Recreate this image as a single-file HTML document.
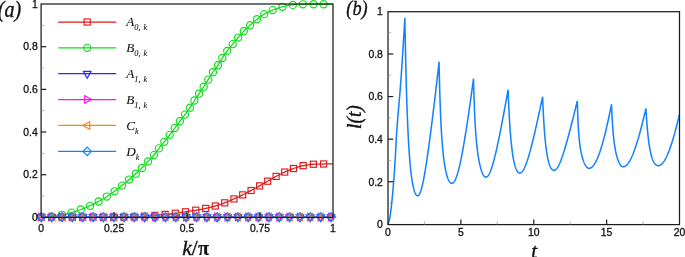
<!DOCTYPE html>
<html lang="en"><head><meta charset="utf-8"><title>Figure</title>
<style>
html,body{margin:0;padding:0;background:#fff}
body{width:685px;height:257px;overflow:hidden}
svg{display:block;will-change:transform}
.tk text{font-family:"Liberation Sans",sans-serif;font-size:10.4px;fill:#111;stroke:#111;stroke-width:0.3px}
.lg{font-family:"Liberation Serif",serif;font-style:italic;font-size:13.2px;fill:#111;stroke:#111;stroke-width:0.08px}
.sub{font-size:8.3px;word-spacing:0.8px}
.ttl{font-family:"Liberation Serif",serif;fill:#111;stroke:#111;stroke-width:0.35px}
.it{font-style:italic}
</style></head><body>
<svg width="685" height="257" viewBox="0 0 685 257">
<rect width="685" height="257" fill="#fff"/>
<path d="M41.3 217.3 L42.77 217.3 L44.23 217.3 L45.7 217.3 L47.16 217.3 L48.63 217.3 L50.09 217.3 L51.56 217.3 L53.03 217.3 L54.49 217.3 L55.96 217.3 L57.42 217.3 L58.89 217.3 L60.36 217.3 L61.82 217.3 L63.29 217.3 L64.75 217.3 L66.22 217.3 L67.68 217.3 L69.15 217.3 L70.62 217.3 L72.08 217.3 L73.55 217.3 L75.01 217.3 L76.48 217.3 L77.95 217.3 L79.41 217.3 L80.88 217.3 L82.34 217.3 L83.81 217.3 L85.27 217.3 L86.74 217.3 L88.21 217.3 L89.67 217.3 L91.14 217.3 L92.6 217.3 L94.07 217.3 L95.54 217.3 L97 217.3 L98.47 217.3 L99.93 217.3 L101.4 217.3 L102.86 217.3 L104.33 217.3 L105.8 217.3 L107.26 217.3 L108.73 217.3 L110.19 217.3 L111.66 217.3 L113.13 217.3 L114.59 217.29 L116.06 217.27 L117.52 217.22 L118.99 217.17 L120.45 217.11 L121.92 217.06 L123.39 217.01 L124.85 216.98 L126.32 216.95 L127.78 216.93 L129.25 216.9 L130.72 216.88 L132.18 216.85 L133.65 216.81 L135.11 216.77 L136.58 216.72 L138.04 216.66 L139.51 216.59 L140.98 216.51 L142.44 216.42 L143.91 216.34 L145.37 216.24 L146.84 216.13 L148.31 216.01 L149.77 215.88 L151.24 215.74 L152.7 215.6 L154.17 215.46 L155.63 215.33 L157.1 215.19 L158.57 215.05 L160.03 214.91 L161.5 214.76 L162.96 214.62 L164.43 214.47 L165.9 214.32 L167.36 214.17 L168.83 214.02 L170.29 213.87 L171.76 213.72 L173.22 213.55 L174.69 213.38 L176.16 213.2 L177.62 213 L179.09 212.79 L180.55 212.57 L182.02 212.34 L183.49 212.11 L184.95 211.88 L186.42 211.66 L187.88 211.44 L189.35 211.22 L190.81 210.99 L192.28 210.76 L193.75 210.53 L195.21 210.29 L196.68 210.04 L198.14 209.8 L199.61 209.55 L201.08 209.29 L202.54 209.02 L204.01 208.74 L205.47 208.45 L206.94 208.13 L208.4 207.8 L209.87 207.45 L211.34 207.08 L212.8 206.69 L214.27 206.29 L215.73 205.87 L217.2 205.43 L218.67 204.97 L220.13 204.49 L221.6 203.98 L223.06 203.46 L224.53 202.91 L225.99 202.35 L227.46 201.75 L228.93 201.12 L230.39 200.48 L231.86 199.83 L233.32 199.18 L234.79 198.53 L236.26 197.88 L237.72 197.22 L239.19 196.56 L240.65 195.88 L242.12 195.18 L243.58 194.46 L245.05 193.72 L246.52 192.95 L247.98 192.17 L249.45 191.38 L250.91 190.6 L252.38 189.82 L253.85 189.04 L255.31 188.25 L256.78 187.46 L258.24 186.65 L259.71 185.84 L261.17 185.01 L262.64 184.16 L264.11 183.3 L265.57 182.44 L267.04 181.58 L268.5 180.74 L269.97 179.88 L271.44 179.03 L272.9 178.18 L274.37 177.35 L275.83 176.54 L277.3 175.76 L278.76 174.98 L280.23 174.22 L281.7 173.48 L283.16 172.76 L284.63 172.08 L286.09 171.43 L287.56 170.8 L289.03 170.19 L290.49 169.6 L291.96 169.05 L293.42 168.53 L294.89 168.02 L296.35 167.53 L297.82 167.05 L299.29 166.6 L300.75 166.19 L302.22 165.84 L303.68 165.55 L305.15 165.28 L306.62 165.03 L308.08 164.79 L309.55 164.59 L311.01 164.42 L312.48 164.3 L313.94 164.23 L315.41 164.17 L316.88 164.13 L318.34 164.09 L319.81 164.05 L321.27 164.03 L322.74 164.01 L324.21 163.99 L325.67 163.98 L327.14 163.97 L328.6 163.96 L330.07 163.96 L331.53 163.95 L333 163.95" fill="none" stroke="#dc1a1a" stroke-width="1.25"/>
<rect x="38.25" y="214.25" width="6.1" height="6.1" fill="none" stroke="#dc1a1a" stroke-width="1.15"/>
<rect x="48.58" y="214.25" width="6.1" height="6.1" fill="none" stroke="#dc1a1a" stroke-width="1.15"/>
<rect x="58.91" y="214.25" width="6.1" height="6.1" fill="none" stroke="#dc1a1a" stroke-width="1.15"/>
<rect x="69.24" y="214.25" width="6.1" height="6.1" fill="none" stroke="#dc1a1a" stroke-width="1.15"/>
<rect x="79.57" y="214.25" width="6.1" height="6.1" fill="none" stroke="#dc1a1a" stroke-width="1.15"/>
<rect x="89.9" y="214.25" width="6.1" height="6.1" fill="none" stroke="#dc1a1a" stroke-width="1.15"/>
<rect x="100.23" y="214.25" width="6.1" height="6.1" fill="none" stroke="#dc1a1a" stroke-width="1.15"/>
<rect x="110.56" y="214.25" width="6.1" height="6.1" fill="none" stroke="#dc1a1a" stroke-width="1.15"/>
<rect x="120.85" y="213.95" width="6.1" height="6.1" fill="none" stroke="#dc1a1a" stroke-width="1.15"/>
<rect x="131.15" y="213.75" width="6.1" height="6.1" fill="none" stroke="#dc1a1a" stroke-width="1.15"/>
<rect x="141.45" y="213.25" width="6.1" height="6.1" fill="none" stroke="#dc1a1a" stroke-width="1.15"/>
<rect x="151.8" y="212.35" width="6.1" height="6.1" fill="none" stroke="#dc1a1a" stroke-width="1.15"/>
<rect x="162.05" y="211.35" width="6.1" height="6.1" fill="none" stroke="#dc1a1a" stroke-width="1.15"/>
<rect x="172.3" y="210.25" width="6.1" height="6.1" fill="none" stroke="#dc1a1a" stroke-width="1.15"/>
<rect x="182.45" y="208.75" width="6.1" height="6.1" fill="none" stroke="#dc1a1a" stroke-width="1.15"/>
<rect x="192.7" y="207.15" width="6.1" height="6.1" fill="none" stroke="#dc1a1a" stroke-width="1.15"/>
<rect x="202.65" y="205.35" width="6.1" height="6.1" fill="none" stroke="#dc1a1a" stroke-width="1.15"/>
<rect x="212.25" y="202.95" width="6.1" height="6.1" fill="none" stroke="#dc1a1a" stroke-width="1.15"/>
<rect x="221.65" y="199.8" width="6.1" height="6.1" fill="none" stroke="#dc1a1a" stroke-width="1.15"/>
<rect x="230.9" y="195.85" width="6.1" height="6.1" fill="none" stroke="#dc1a1a" stroke-width="1.15"/>
<rect x="239.65" y="191.85" width="6.1" height="6.1" fill="none" stroke="#dc1a1a" stroke-width="1.15"/>
<rect x="248.05" y="187.45" width="6.1" height="6.1" fill="none" stroke="#dc1a1a" stroke-width="1.15"/>
<rect x="256.55" y="182.85" width="6.1" height="6.1" fill="none" stroke="#dc1a1a" stroke-width="1.15"/>
<rect x="264.65" y="178.15" width="6.1" height="6.1" fill="none" stroke="#dc1a1a" stroke-width="1.15"/>
<rect x="273.05" y="173.35" width="6.1" height="6.1" fill="none" stroke="#dc1a1a" stroke-width="1.15"/>
<rect x="281.65" y="169" width="6.1" height="6.1" fill="none" stroke="#dc1a1a" stroke-width="1.15"/>
<rect x="290.45" y="165.45" width="6.1" height="6.1" fill="none" stroke="#dc1a1a" stroke-width="1.15"/>
<rect x="300.1" y="162.6" width="6.1" height="6.1" fill="none" stroke="#dc1a1a" stroke-width="1.15"/>
<rect x="310.35" y="161.2" width="6.1" height="6.1" fill="none" stroke="#dc1a1a" stroke-width="1.15"/>
<rect x="320.55" y="160.95" width="6.1" height="6.1" fill="none" stroke="#dc1a1a" stroke-width="1.15"/>
<path d="M41.3 217.3 L42.77 217.26 L44.23 217.19 L45.7 217.1 L47.16 217 L48.63 216.87 L50.09 216.74 L51.56 216.59 L53.03 216.42 L54.49 216.21 L55.96 215.96 L57.42 215.69 L58.89 215.4 L60.36 215.1 L61.82 214.81 L63.29 214.51 L64.75 214.21 L66.22 213.89 L67.68 213.56 L69.15 213.21 L70.62 212.84 L72.08 212.44 L73.55 212 L75.01 211.54 L76.48 211.04 L77.95 210.53 L79.41 210 L80.88 209.47 L82.34 208.93 L83.81 208.39 L85.27 207.82 L86.74 207.23 L88.21 206.63 L89.67 206 L91.14 205.33 L92.6 204.63 L94.07 203.91 L95.54 203.15 L97 202.37 L98.47 201.57 L99.93 200.75 L101.4 199.9 L102.86 199.01 L104.33 198.11 L105.8 197.19 L107.26 196.25 L108.73 195.31 L110.19 194.34 L111.66 193.36 L113.13 192.34 L114.59 191.31 L116.06 190.23 L117.52 189.13 L118.99 188 L120.45 186.84 L121.92 185.66 L123.39 184.46 L124.85 183.22 L126.32 181.96 L127.78 180.69 L129.25 179.42 L130.72 178.16 L132.18 176.89 L133.65 175.61 L135.11 174.31 L136.58 173 L138.04 171.7 L139.51 170.37 L140.98 169 L142.44 167.55 L143.91 166.01 L145.37 164.4 L146.84 162.77 L148.31 161.17 L149.77 159.62 L151.24 158.08 L152.7 156.49 L154.17 154.77 L155.63 152.85 L157.1 150.82 L158.57 148.83 L160.03 146.98 L161.5 145.21 L162.96 143.44 L164.43 141.64 L165.9 139.78 L167.36 137.9 L168.83 136 L170.29 134.06 L171.76 132.08 L173.22 130.08 L174.69 128.1 L176.16 126.15 L177.62 124.23 L179.09 122.31 L180.55 120.4 L182.02 118.5 L183.49 116.6 L184.95 114.67 L186.42 112.71 L187.88 110.73 L189.35 108.66 L190.81 106.43 L192.28 103.99 L193.75 101.54 L195.21 99.27 L196.68 97.13 L198.14 95.03 L199.61 92.87 L201.08 90.67 L202.54 88.46 L204.01 86.23 L205.47 83.99 L206.94 81.73 L208.4 79.43 L209.87 77.05 L211.34 74.64 L212.8 72.35 L214.27 70.29 L215.73 68.38 L217.2 66.41 L218.67 64.2 L220.13 61.68 L221.6 59.14 L223.06 56.82 L224.53 54.63 L225.99 52.54 L227.46 50.55 L228.93 48.68 L230.39 46.89 L231.86 45.12 L233.32 43.33 L234.79 41.53 L236.26 39.73 L237.72 37.99 L239.19 36.31 L240.65 34.66 L242.12 33.06 L243.58 31.52 L245.05 30.05 L246.52 28.63 L247.98 27.25 L249.45 25.9 L250.91 24.55 L252.38 23.2 L253.85 21.88 L255.31 20.6 L256.78 19.4 L258.24 18.26 L259.71 17.16 L261.17 16.11 L262.64 15.13 L264.11 14.23 L265.57 13.42 L267.04 12.65 L268.5 11.93 L269.97 11.25 L271.44 10.62 L272.9 10.02 L274.37 9.45 L275.83 8.89 L277.3 8.36 L278.76 7.86 L280.23 7.41 L281.7 7 L283.16 6.64 L284.63 6.3 L286.09 5.98 L287.56 5.68 L289.03 5.41 L290.49 5.17 L291.96 4.98 L293.42 4.84 L294.89 4.72 L296.35 4.61 L297.82 4.51 L299.29 4.43 L300.75 4.36 L302.22 4.31 L303.68 4.29 L305.15 4.27 L306.62 4.25 L308.08 4.23 L309.55 4.22 L311.01 4.21 L312.48 4.2 L313.94 4.2 L315.41 4.2 L316.88 4.2 L318.34 4.2 L319.81 4.2 L321.27 4.2 L322.74 4.2 L324.21 4.2 L325.67 4.2 L327.14 4.2 L328.6 4.2 L330.07 4.2 L331.53 4.2 L333 4.2" fill="none" stroke="#10dc1c" stroke-width="1.25"/>
<circle cx="41.3" cy="217.3" r="3.6" fill="none" stroke="#10dc1c" stroke-width="1.15"/>
<circle cx="51.5" cy="216.6" r="3.6" fill="none" stroke="#10dc1c" stroke-width="1.15"/>
<circle cx="61.85" cy="214.8" r="3.6" fill="none" stroke="#10dc1c" stroke-width="1.15"/>
<circle cx="71.5" cy="212.6" r="3.6" fill="none" stroke="#10dc1c" stroke-width="1.15"/>
<circle cx="80.8" cy="209.5" r="3.6" fill="none" stroke="#10dc1c" stroke-width="1.15"/>
<circle cx="90" cy="205.85" r="3.6" fill="none" stroke="#10dc1c" stroke-width="1.15"/>
<circle cx="98.6" cy="201.5" r="3.6" fill="none" stroke="#10dc1c" stroke-width="1.15"/>
<circle cx="106.8" cy="196.55" r="3.6" fill="none" stroke="#10dc1c" stroke-width="1.15"/>
<circle cx="114.6" cy="191.3" r="3.6" fill="none" stroke="#10dc1c" stroke-width="1.15"/>
<circle cx="122" cy="185.6" r="3.6" fill="none" stroke="#10dc1c" stroke-width="1.15"/>
<circle cx="129.1" cy="179.55" r="3.6" fill="none" stroke="#10dc1c" stroke-width="1.15"/>
<circle cx="135.8" cy="173.7" r="3.6" fill="none" stroke="#10dc1c" stroke-width="1.15"/>
<circle cx="142" cy="168" r="3.6" fill="none" stroke="#10dc1c" stroke-width="1.15"/>
<circle cx="148" cy="161.5" r="3.6" fill="none" stroke="#10dc1c" stroke-width="1.15"/>
<circle cx="153.9" cy="155.1" r="3.6" fill="none" stroke="#10dc1c" stroke-width="1.15"/>
<circle cx="158.9" cy="148.4" r="3.6" fill="none" stroke="#10dc1c" stroke-width="1.15"/>
<circle cx="164.3" cy="141.8" r="3.6" fill="none" stroke="#10dc1c" stroke-width="1.15"/>
<circle cx="169.7" cy="134.85" r="3.6" fill="none" stroke="#10dc1c" stroke-width="1.15"/>
<circle cx="174.8" cy="127.95" r="3.6" fill="none" stroke="#10dc1c" stroke-width="1.15"/>
<circle cx="179.9" cy="121.25" r="3.6" fill="none" stroke="#10dc1c" stroke-width="1.15"/>
<circle cx="185" cy="114.6" r="3.6" fill="none" stroke="#10dc1c" stroke-width="1.15"/>
<circle cx="190" cy="107.7" r="3.6" fill="none" stroke="#10dc1c" stroke-width="1.15"/>
<circle cx="194.4" cy="100.5" r="3.6" fill="none" stroke="#10dc1c" stroke-width="1.15"/>
<circle cx="199.05" cy="93.7" r="3.6" fill="none" stroke="#10dc1c" stroke-width="1.15"/>
<circle cx="203.7" cy="86.7" r="3.6" fill="none" stroke="#10dc1c" stroke-width="1.15"/>
<circle cx="208.3" cy="79.6" r="3.6" fill="none" stroke="#10dc1c" stroke-width="1.15"/>
<circle cx="212.9" cy="72.2" r="3.6" fill="none" stroke="#10dc1c" stroke-width="1.15"/>
<circle cx="218" cy="65.25" r="3.6" fill="none" stroke="#10dc1c" stroke-width="1.15"/>
<circle cx="222.3" cy="58" r="3.6" fill="none" stroke="#10dc1c" stroke-width="1.15"/>
<circle cx="227.2" cy="50.9" r="3.6" fill="none" stroke="#10dc1c" stroke-width="1.15"/>
<circle cx="232.7" cy="44.1" r="3.6" fill="none" stroke="#10dc1c" stroke-width="1.15"/>
<circle cx="238.1" cy="37.55" r="3.6" fill="none" stroke="#10dc1c" stroke-width="1.15"/>
<circle cx="243.8" cy="31.3" r="3.6" fill="none" stroke="#10dc1c" stroke-width="1.15"/>
<circle cx="250.1" cy="25.3" r="3.6" fill="none" stroke="#10dc1c" stroke-width="1.15"/>
<circle cx="256.9" cy="19.3" r="3.6" fill="none" stroke="#10dc1c" stroke-width="1.15"/>
<circle cx="264.25" cy="14.15" r="3.6" fill="none" stroke="#10dc1c" stroke-width="1.15"/>
<circle cx="272.7" cy="10.1" r="3.6" fill="none" stroke="#10dc1c" stroke-width="1.15"/>
<circle cx="282.5" cy="6.8" r="3.6" fill="none" stroke="#10dc1c" stroke-width="1.15"/>
<circle cx="292.8" cy="4.9" r="3.6" fill="none" stroke="#10dc1c" stroke-width="1.15"/>
<circle cx="302.9" cy="4.3" r="3.6" fill="none" stroke="#10dc1c" stroke-width="1.15"/>
<circle cx="313.5" cy="4.2" r="3.6" fill="none" stroke="#10dc1c" stroke-width="1.15"/>
<circle cx="323.6" cy="4.2" r="3.6" fill="none" stroke="#10dc1c" stroke-width="1.15"/>
<line x1="41.1" x2="333.0" y1="217.3" y2="217.3" stroke="#2626ff" stroke-width="1.25"/>
<path d="M37.55 214.8H45.15L41.35 221.6Z" fill="none" stroke="#2626ff" stroke-width="1.15" stroke-linejoin="miter"/>
<path d="M47.9 214.8H55.49L51.7 221.6Z" fill="none" stroke="#2626ff" stroke-width="1.15" stroke-linejoin="miter"/>
<path d="M58.24 214.8H65.84L62.04 221.6Z" fill="none" stroke="#2626ff" stroke-width="1.15" stroke-linejoin="miter"/>
<path d="M68.59 214.8H76.19L72.39 221.6Z" fill="none" stroke="#2626ff" stroke-width="1.15" stroke-linejoin="miter"/>
<path d="M78.93 214.8H86.53L82.73 221.6Z" fill="none" stroke="#2626ff" stroke-width="1.15" stroke-linejoin="miter"/>
<path d="M89.28 214.8H96.88L93.08 221.6Z" fill="none" stroke="#2626ff" stroke-width="1.15" stroke-linejoin="miter"/>
<path d="M99.62 214.8H107.22L103.42 221.6Z" fill="none" stroke="#2626ff" stroke-width="1.15" stroke-linejoin="miter"/>
<path d="M109.97 214.8H117.57L113.77 221.6Z" fill="none" stroke="#2626ff" stroke-width="1.15" stroke-linejoin="miter"/>
<path d="M120.31 214.8H127.91L124.11 221.6Z" fill="none" stroke="#2626ff" stroke-width="1.15" stroke-linejoin="miter"/>
<path d="M130.66 214.8H138.26L134.46 221.6Z" fill="none" stroke="#2626ff" stroke-width="1.15" stroke-linejoin="miter"/>
<path d="M141 214.8H148.6L144.8 221.6Z" fill="none" stroke="#2626ff" stroke-width="1.15" stroke-linejoin="miter"/>
<path d="M151.34 214.8H158.95L155.15 221.6Z" fill="none" stroke="#2626ff" stroke-width="1.15" stroke-linejoin="miter"/>
<path d="M161.69 214.8H169.29L165.49 221.6Z" fill="none" stroke="#2626ff" stroke-width="1.15" stroke-linejoin="miter"/>
<path d="M172.03 214.8H179.64L175.84 221.6Z" fill="none" stroke="#2626ff" stroke-width="1.15" stroke-linejoin="miter"/>
<path d="M182.38 214.8H189.98L186.18 221.6Z" fill="none" stroke="#2626ff" stroke-width="1.15" stroke-linejoin="miter"/>
<path d="M192.72 214.8H200.33L196.53 221.6Z" fill="none" stroke="#2626ff" stroke-width="1.15" stroke-linejoin="miter"/>
<path d="M203.07 214.8H210.67L206.87 221.6Z" fill="none" stroke="#2626ff" stroke-width="1.15" stroke-linejoin="miter"/>
<path d="M213.41 214.8H221.02L217.22 221.6Z" fill="none" stroke="#2626ff" stroke-width="1.15" stroke-linejoin="miter"/>
<path d="M223.76 214.8H231.36L227.56 221.6Z" fill="none" stroke="#2626ff" stroke-width="1.15" stroke-linejoin="miter"/>
<path d="M234.1 214.8H241.71L237.91 221.6Z" fill="none" stroke="#2626ff" stroke-width="1.15" stroke-linejoin="miter"/>
<path d="M244.45 214.8H252.05L248.25 221.6Z" fill="none" stroke="#2626ff" stroke-width="1.15" stroke-linejoin="miter"/>
<path d="M254.8 214.8H262.4L258.6 221.6Z" fill="none" stroke="#2626ff" stroke-width="1.15" stroke-linejoin="miter"/>
<path d="M265.14 214.8H272.74L268.94 221.6Z" fill="none" stroke="#2626ff" stroke-width="1.15" stroke-linejoin="miter"/>
<path d="M275.49 214.8H283.09L279.29 221.6Z" fill="none" stroke="#2626ff" stroke-width="1.15" stroke-linejoin="miter"/>
<path d="M285.83 214.8H293.43L289.63 221.6Z" fill="none" stroke="#2626ff" stroke-width="1.15" stroke-linejoin="miter"/>
<path d="M296.18 214.8H303.78L299.98 221.6Z" fill="none" stroke="#2626ff" stroke-width="1.15" stroke-linejoin="miter"/>
<path d="M306.52 214.8H314.12L310.32 221.6Z" fill="none" stroke="#2626ff" stroke-width="1.15" stroke-linejoin="miter"/>
<path d="M316.87 214.8H324.47L320.67 221.6Z" fill="none" stroke="#2626ff" stroke-width="1.15" stroke-linejoin="miter"/>
<path d="M327.21 214.8H334.81L331.01 221.6Z" fill="none" stroke="#2626ff" stroke-width="1.15" stroke-linejoin="miter"/>
<line x1="41.1" x2="333.0" y1="217.3" y2="217.3" stroke="#ff10e8" stroke-width="1.25"/>
<path d="M38.85 213.2V220.8L45.75 217Z" fill="none" stroke="#ff10e8" stroke-width="1.15"/>
<path d="M49.2 213.2V220.8L56.09 217Z" fill="none" stroke="#ff10e8" stroke-width="1.15"/>
<path d="M59.54 213.2V220.8L66.44 217Z" fill="none" stroke="#ff10e8" stroke-width="1.15"/>
<path d="M69.89 213.2V220.8L76.79 217Z" fill="none" stroke="#ff10e8" stroke-width="1.15"/>
<path d="M80.23 213.2V220.8L87.13 217Z" fill="none" stroke="#ff10e8" stroke-width="1.15"/>
<path d="M90.58 213.2V220.8L97.48 217Z" fill="none" stroke="#ff10e8" stroke-width="1.15"/>
<path d="M100.92 213.2V220.8L107.82 217Z" fill="none" stroke="#ff10e8" stroke-width="1.15"/>
<path d="M111.27 213.2V220.8L118.17 217Z" fill="none" stroke="#ff10e8" stroke-width="1.15"/>
<path d="M121.61 213.2V220.8L128.51 217Z" fill="none" stroke="#ff10e8" stroke-width="1.15"/>
<path d="M131.96 213.2V220.8L138.86 217Z" fill="none" stroke="#ff10e8" stroke-width="1.15"/>
<path d="M142.3 213.2V220.8L149.2 217Z" fill="none" stroke="#ff10e8" stroke-width="1.15"/>
<path d="M152.65 213.2V220.8L159.55 217Z" fill="none" stroke="#ff10e8" stroke-width="1.15"/>
<path d="M162.99 213.2V220.8L169.89 217Z" fill="none" stroke="#ff10e8" stroke-width="1.15"/>
<path d="M173.34 213.2V220.8L180.24 217Z" fill="none" stroke="#ff10e8" stroke-width="1.15"/>
<path d="M183.68 213.2V220.8L190.58 217Z" fill="none" stroke="#ff10e8" stroke-width="1.15"/>
<path d="M194.03 213.2V220.8L200.93 217Z" fill="none" stroke="#ff10e8" stroke-width="1.15"/>
<path d="M204.37 213.2V220.8L211.27 217Z" fill="none" stroke="#ff10e8" stroke-width="1.15"/>
<path d="M214.72 213.2V220.8L221.62 217Z" fill="none" stroke="#ff10e8" stroke-width="1.15"/>
<path d="M225.06 213.2V220.8L231.96 217Z" fill="none" stroke="#ff10e8" stroke-width="1.15"/>
<path d="M235.41 213.2V220.8L242.31 217Z" fill="none" stroke="#ff10e8" stroke-width="1.15"/>
<path d="M245.75 213.2V220.8L252.65 217Z" fill="none" stroke="#ff10e8" stroke-width="1.15"/>
<path d="M256.1 213.2V220.8L263 217Z" fill="none" stroke="#ff10e8" stroke-width="1.15"/>
<path d="M266.44 213.2V220.8L273.34 217Z" fill="none" stroke="#ff10e8" stroke-width="1.15"/>
<path d="M276.79 213.2V220.8L283.69 217Z" fill="none" stroke="#ff10e8" stroke-width="1.15"/>
<path d="M287.13 213.2V220.8L294.03 217Z" fill="none" stroke="#ff10e8" stroke-width="1.15"/>
<path d="M297.48 213.2V220.8L304.38 217Z" fill="none" stroke="#ff10e8" stroke-width="1.15"/>
<path d="M307.82 213.2V220.8L314.72 217Z" fill="none" stroke="#ff10e8" stroke-width="1.15"/>
<path d="M318.17 213.2V220.8L325.06 217Z" fill="none" stroke="#ff10e8" stroke-width="1.15"/>
<path d="M328.51 213.2V220.8L335.41 217Z" fill="none" stroke="#ff10e8" stroke-width="1.15"/>
<line x1="41.1" x2="333.0" y1="217.3" y2="217.3" stroke="#ff8212" stroke-width="1.25"/>
<path d="M43.85 213.2V220.8L36.95 217Z" fill="none" stroke="#ff8212" stroke-width="1.15"/>
<path d="M54.2 213.2V220.8L47.3 217Z" fill="none" stroke="#ff8212" stroke-width="1.15"/>
<path d="M64.54 213.2V220.8L57.64 217Z" fill="none" stroke="#ff8212" stroke-width="1.15"/>
<path d="M74.89 213.2V220.8L67.98 217Z" fill="none" stroke="#ff8212" stroke-width="1.15"/>
<path d="M85.23 213.2V220.8L78.33 217Z" fill="none" stroke="#ff8212" stroke-width="1.15"/>
<path d="M95.58 213.2V220.8L88.67 217Z" fill="none" stroke="#ff8212" stroke-width="1.15"/>
<path d="M105.92 213.2V220.8L99.02 217Z" fill="none" stroke="#ff8212" stroke-width="1.15"/>
<path d="M116.27 213.2V220.8L109.37 217Z" fill="none" stroke="#ff8212" stroke-width="1.15"/>
<path d="M126.61 213.2V220.8L119.71 217Z" fill="none" stroke="#ff8212" stroke-width="1.15"/>
<path d="M136.96 213.2V220.8L130.06 217Z" fill="none" stroke="#ff8212" stroke-width="1.15"/>
<path d="M147.3 213.2V220.8L140.4 217Z" fill="none" stroke="#ff8212" stroke-width="1.15"/>
<path d="M157.65 213.2V220.8L150.75 217Z" fill="none" stroke="#ff8212" stroke-width="1.15"/>
<path d="M167.99 213.2V220.8L161.09 217Z" fill="none" stroke="#ff8212" stroke-width="1.15"/>
<path d="M178.34 213.2V220.8L171.44 217Z" fill="none" stroke="#ff8212" stroke-width="1.15"/>
<path d="M188.68 213.2V220.8L181.78 217Z" fill="none" stroke="#ff8212" stroke-width="1.15"/>
<path d="M199.03 213.2V220.8L192.12 217Z" fill="none" stroke="#ff8212" stroke-width="1.15"/>
<path d="M209.37 213.2V220.8L202.47 217Z" fill="none" stroke="#ff8212" stroke-width="1.15"/>
<path d="M219.72 213.2V220.8L212.81 217Z" fill="none" stroke="#ff8212" stroke-width="1.15"/>
<path d="M230.06 213.2V220.8L223.16 217Z" fill="none" stroke="#ff8212" stroke-width="1.15"/>
<path d="M240.41 213.2V220.8L233.5 217Z" fill="none" stroke="#ff8212" stroke-width="1.15"/>
<path d="M250.75 213.2V220.8L243.85 217Z" fill="none" stroke="#ff8212" stroke-width="1.15"/>
<path d="M261.1 213.2V220.8L254.2 217Z" fill="none" stroke="#ff8212" stroke-width="1.15"/>
<path d="M271.44 213.2V220.8L264.54 217Z" fill="none" stroke="#ff8212" stroke-width="1.15"/>
<path d="M281.79 213.2V220.8L274.89 217Z" fill="none" stroke="#ff8212" stroke-width="1.15"/>
<path d="M292.13 213.2V220.8L285.23 217Z" fill="none" stroke="#ff8212" stroke-width="1.15"/>
<path d="M302.48 213.2V220.8L295.58 217Z" fill="none" stroke="#ff8212" stroke-width="1.15"/>
<path d="M312.82 213.2V220.8L305.92 217Z" fill="none" stroke="#ff8212" stroke-width="1.15"/>
<path d="M323.17 213.2V220.8L316.27 217Z" fill="none" stroke="#ff8212" stroke-width="1.15"/>
<path d="M333.51 213.2V220.8L326.61 217Z" fill="none" stroke="#ff8212" stroke-width="1.15"/>
<line x1="41.1" x2="333.0" y1="217.3" y2="217.3" stroke="#1482ff" stroke-width="1.25"/>
<path d="M37.25 217L41.35 212.7L45.45 217L41.35 221.3Z" fill="none" stroke="#1482ff" stroke-width="1.15"/>
<path d="M47.59 217L51.7 212.7L55.8 217L51.7 221.3Z" fill="none" stroke="#1482ff" stroke-width="1.15"/>
<path d="M57.94 217L62.04 212.7L66.14 217L62.04 221.3Z" fill="none" stroke="#1482ff" stroke-width="1.15"/>
<path d="M68.29 217L72.39 212.7L76.48 217L72.39 221.3Z" fill="none" stroke="#1482ff" stroke-width="1.15"/>
<path d="M78.63 217L82.73 212.7L86.83 217L82.73 221.3Z" fill="none" stroke="#1482ff" stroke-width="1.15"/>
<path d="M88.98 217L93.08 212.7L97.17 217L93.08 221.3Z" fill="none" stroke="#1482ff" stroke-width="1.15"/>
<path d="M99.32 217L103.42 212.7L107.52 217L103.42 221.3Z" fill="none" stroke="#1482ff" stroke-width="1.15"/>
<path d="M109.67 217L113.77 212.7L117.87 217L113.77 221.3Z" fill="none" stroke="#1482ff" stroke-width="1.15"/>
<path d="M120.01 217L124.11 212.7L128.21 217L124.11 221.3Z" fill="none" stroke="#1482ff" stroke-width="1.15"/>
<path d="M130.36 217L134.46 212.7L138.56 217L134.46 221.3Z" fill="none" stroke="#1482ff" stroke-width="1.15"/>
<path d="M140.7 217L144.8 212.7L148.9 217L144.8 221.3Z" fill="none" stroke="#1482ff" stroke-width="1.15"/>
<path d="M151.05 217L155.15 212.7L159.25 217L155.15 221.3Z" fill="none" stroke="#1482ff" stroke-width="1.15"/>
<path d="M161.39 217L165.49 212.7L169.59 217L165.49 221.3Z" fill="none" stroke="#1482ff" stroke-width="1.15"/>
<path d="M171.74 217L175.84 212.7L179.94 217L175.84 221.3Z" fill="none" stroke="#1482ff" stroke-width="1.15"/>
<path d="M182.08 217L186.18 212.7L190.28 217L186.18 221.3Z" fill="none" stroke="#1482ff" stroke-width="1.15"/>
<path d="M192.43 217L196.53 212.7L200.62 217L196.53 221.3Z" fill="none" stroke="#1482ff" stroke-width="1.15"/>
<path d="M202.77 217L206.87 212.7L210.97 217L206.87 221.3Z" fill="none" stroke="#1482ff" stroke-width="1.15"/>
<path d="M213.12 217L217.22 212.7L221.31 217L217.22 221.3Z" fill="none" stroke="#1482ff" stroke-width="1.15"/>
<path d="M223.46 217L227.56 212.7L231.66 217L227.56 221.3Z" fill="none" stroke="#1482ff" stroke-width="1.15"/>
<path d="M233.81 217L237.91 212.7L242 217L237.91 221.3Z" fill="none" stroke="#1482ff" stroke-width="1.15"/>
<path d="M244.15 217L248.25 212.7L252.35 217L248.25 221.3Z" fill="none" stroke="#1482ff" stroke-width="1.15"/>
<path d="M254.5 217L258.6 212.7L262.7 217L258.6 221.3Z" fill="none" stroke="#1482ff" stroke-width="1.15"/>
<path d="M264.84 217L268.94 212.7L273.04 217L268.94 221.3Z" fill="none" stroke="#1482ff" stroke-width="1.15"/>
<path d="M275.19 217L279.29 212.7L283.39 217L279.29 221.3Z" fill="none" stroke="#1482ff" stroke-width="1.15"/>
<path d="M285.53 217L289.63 212.7L293.73 217L289.63 221.3Z" fill="none" stroke="#1482ff" stroke-width="1.15"/>
<path d="M295.88 217L299.98 212.7L304.08 217L299.98 221.3Z" fill="none" stroke="#1482ff" stroke-width="1.15"/>
<path d="M306.22 217L310.32 212.7L314.42 217L310.32 221.3Z" fill="none" stroke="#1482ff" stroke-width="1.15"/>
<path d="M316.56 217L320.67 212.7L324.77 217L320.67 221.3Z" fill="none" stroke="#1482ff" stroke-width="1.15"/>
<path d="M326.91 217L331.01 212.7L335.11 217L331.01 221.3Z" fill="none" stroke="#1482ff" stroke-width="1.15"/>
<line x1="58.2" x2="116.2" y1="22.0" y2="22.0" stroke="#dc1a1a" stroke-width="1.25"/>
<rect x="84.15" y="18.95" width="6.1" height="6.1" fill="none" stroke="#dc1a1a" stroke-width="1.15"/>
<text class="lg" x="126.3" y="26.1">A<tspan class="sub" dy="4.1">0, k</tspan></text>
<line x1="58.2" x2="116.2" y1="47.85" y2="47.85" stroke="#10dc1c" stroke-width="1.25"/>
<circle cx="87.2" cy="47.85" r="3.6" fill="none" stroke="#10dc1c" stroke-width="1.15"/>
<text class="lg" x="126.3" y="51.95">B<tspan class="sub" dy="4.1">0, k</tspan></text>
<line x1="58.2" x2="116.2" y1="73.6" y2="73.6" stroke="#2626ff" stroke-width="1.25"/>
<path d="M83.4 71.4H91L87.2 78.2Z" fill="none" stroke="#2626ff" stroke-width="1.15" stroke-linejoin="miter"/>
<text class="lg" x="126.3" y="77.7">A<tspan class="sub" dy="4.1">1, k</tspan></text>
<line x1="58.2" x2="116.2" y1="99.5" y2="99.5" stroke="#ff10e8" stroke-width="1.25"/>
<path d="M84.7 95.7V103.3L91.6 99.5Z" fill="none" stroke="#ff10e8" stroke-width="1.15"/>
<text class="lg" x="126.3" y="103.6">B<tspan class="sub" dy="4.1">1, k</tspan></text>
<line x1="58.2" x2="116.2" y1="125.4" y2="125.4" stroke="#ff8212" stroke-width="1.25"/>
<path d="M89.7 121.6V129.2L82.8 125.4Z" fill="none" stroke="#ff8212" stroke-width="1.15"/>
<text class="lg" x="126.3" y="129.5">C<tspan class="sub" dy="4.1">k</tspan></text>
<line x1="58.2" x2="116.2" y1="151.4" y2="151.4" stroke="#1482ff" stroke-width="1.25"/>
<path d="M83.1 151.4L87.2 147.1L91.3 151.4L87.2 155.7Z" fill="none" stroke="#1482ff" stroke-width="1.15"/>
<text class="lg" x="126.3" y="155.5">D<tspan class="sub" dy="4.1">k</tspan></text>
<rect x="41.1" y="4.0" width="291.9" height="213.4" fill="none" stroke="#1c1c1c" stroke-width="1.25"/>
<line x1="41.1" x2="44.3" y1="196.06" y2="196.06" stroke="#8a8a8a" stroke-width="0.65"/>
<line x1="41.1" x2="46.3" y1="174.72" y2="174.72" stroke="#1c1c1c" stroke-width="1.2"/>
<line x1="41.1" x2="44.3" y1="153.38" y2="153.38" stroke="#8a8a8a" stroke-width="0.65"/>
<line x1="41.1" x2="46.3" y1="132.04" y2="132.04" stroke="#1c1c1c" stroke-width="1.2"/>
<line x1="41.1" x2="44.3" y1="110.7" y2="110.7" stroke="#8a8a8a" stroke-width="0.65"/>
<line x1="41.1" x2="46.3" y1="89.36" y2="89.36" stroke="#1c1c1c" stroke-width="1.2"/>
<line x1="41.1" x2="44.3" y1="68.02" y2="68.02" stroke="#8a8a8a" stroke-width="0.65"/>
<line x1="41.1" x2="46.3" y1="46.68" y2="46.68" stroke="#1c1c1c" stroke-width="1.2"/>
<line x1="41.1" x2="44.3" y1="25.34" y2="25.34" stroke="#8a8a8a" stroke-width="0.65"/>
<line x1="77.59" x2="77.59" y1="217.4" y2="214.2" stroke="#8a8a8a" stroke-width="0.65"/>
<line x1="114.07" x2="114.07" y1="217.4" y2="212.2" stroke="#1c1c1c" stroke-width="1.2"/>
<line x1="150.56" x2="150.56" y1="217.4" y2="214.2" stroke="#8a8a8a" stroke-width="0.65"/>
<line x1="187.05" x2="187.05" y1="217.4" y2="212.2" stroke="#1c1c1c" stroke-width="1.2"/>
<line x1="223.54" x2="223.54" y1="217.4" y2="214.2" stroke="#8a8a8a" stroke-width="0.65"/>
<line x1="260.02" x2="260.02" y1="217.4" y2="212.2" stroke="#1c1c1c" stroke-width="1.2"/>
<line x1="296.51" x2="296.51" y1="217.4" y2="214.2" stroke="#8a8a8a" stroke-width="0.65"/>
<g class="tk">
<text x="37.7" y="221" text-anchor="end">0</text>
<text x="37.7" y="178.32" text-anchor="end">0.2</text>
<text x="37.7" y="135.64" text-anchor="end">0.4</text>
<text x="37.7" y="92.96" text-anchor="end">0.6</text>
<text x="37.7" y="50.28" text-anchor="end">0.8</text>
<text x="37.7" y="7.6" text-anchor="end">1</text>
<text x="41.1" y="231.6" text-anchor="middle">0</text>
<text x="114.07" y="231.6" text-anchor="middle">0.25</text>
<text x="187.05" y="231.6" text-anchor="middle">0.5</text>
<text x="260.02" y="231.6" text-anchor="middle">0.75</text>
<text x="333" y="231.6" text-anchor="middle">1</text>
</g>
<text class="ttl" x="182.3" y="254.7" style="font-size:21.5px"><tspan font-style="italic">k</tspan>/<tspan dx="0.2" font-weight="bold" style="font-size:20.2px;stroke-width:0.1px">π</tspan></text>
<text class="ttl it" transform="translate(-2.2,16.7) scale(0.9,1)" style="font-size:22.3px">(a)</text>
<path d="M387.9 224.6 L389.19 221.1 L389.84 217.6 L390.39 214.09 L390.86 210.59 L391.29 207.09 L391.68 203.59 L392.04 200.09 L392.37 196.59 L392.69 193.08 L393 189.58 L393.28 186.08 L393.56 182.58 L393.82 179.08 L394.08 175.58 L394.33 172.07 L394.58 168.57 L394.82 165.07 L395.05 161.57 L395.28 158.07 L395.48 154.57 L395.68 151.06 L395.84 147.56 L396 144.06 L396.17 140.56 L396.37 137.06 L396.6 133.56 L396.84 130.05 L397.1 126.55 L397.37 123.05 L397.65 119.55 L397.93 116.05 L398.23 112.55 L398.53 109.04 L398.83 105.54 L399.13 102.04 L399.43 98.54 L399.73 95.04 L400.02 91.54 L400.3 88.03 L400.57 84.53 L400.83 81.03 L401.07 77.53 L401.32 74.03 L401.56 70.53 L401.8 67.02 L402.03 63.52 L402.27 60.02 L402.5 56.52 L402.73 53.02 L402.95 49.52 L403.17 46.01 L403.39 42.51 L403.61 39.01 L403.82 35.51 L404.04 32.01 L404.24 28.51 L404.45 25 L404.65 21.5 L404.85 18 L404.85 17.88 L405.06 30.05 L405.28 41.33 L405.49 51.81 L405.71 61.54 L405.92 70.58 L406.14 78.99 L406.35 86.81 L406.57 94.09 L406.78 100.87 L407 107.19 L407.21 113.08 L407.43 118.59 L407.64 123.73 L407.86 128.53 L408.07 133.02 L408.29 137.22 L408.5 141.15 L408.72 144.84 L408.93 148.29 L409.15 151.54 L409.36 154.58 L409.58 157.43 L409.79 160.12 L410 162.64 L410.22 165.01 L410.43 167.24 L410.65 169.34 L410.86 171.32 L411.08 173.18 L411.29 174.93 L411.51 176.57 L411.72 178.12 L411.94 179.58 L412.15 180.96 L412.37 182.25 L412.58 183.46 L412.8 184.6 L413.01 185.67 L413.23 186.67 L413.44 187.6 L413.66 188.48 L413.87 189.3 L414.09 190.06 L414.3 190.76 L414.52 191.41 L414.73 192.01 L414.94 192.57 L415.16 193.07 L415.37 193.53 L415.59 193.94 L415.8 194.31 L416.02 194.63 L416.23 194.92 L416.45 195.16 L416.66 195.36 L416.88 195.53 L417.09 195.65 L417.31 195.74 L417.52 195.79 L417.74 195.8 L417.95 195.77 L418.17 195.69 L418.38 195.56 L418.6 195.39 L418.81 195.17 L419.03 194.91 L419.24 194.6 L419.46 194.24 L419.67 193.84 L419.88 193.39 L420.1 192.91 L420.31 192.37 L420.53 191.8 L420.74 191.19 L420.96 190.53 L421.17 189.84 L421.39 189.1 L421.6 188.33 L421.82 187.53 L422.03 186.68 L422.25 185.8 L422.46 184.89 L422.68 183.94 L422.89 182.96 L423.11 181.95 L423.32 180.91 L423.54 179.84 L423.75 178.74 L423.97 177.61 L424.18 176.45 L424.39 175.27 L424.61 174.06 L424.82 172.83 L425.04 171.58 L425.25 170.3 L425.47 169 L425.68 167.68 L425.9 166.34 L426.11 164.97 L426.33 163.59 L426.54 162.19 L426.76 160.77 L426.97 159.34 L427.19 157.88 L427.4 156.41 L427.62 154.93 L427.83 153.43 L428.05 151.91 L428.26 150.38 L428.48 148.84 L428.69 147.28 L428.91 145.72 L429.12 144.13 L429.33 142.54 L429.55 140.93 L429.76 139.32 L429.98 137.69 L430.19 136.05 L430.41 134.4 L430.62 132.75 L430.84 131.08 L431.05 129.4 L431.27 127.72 L431.48 126.02 L431.7 124.32 L431.91 122.61 L432.13 120.89 L432.34 119.16 L432.56 117.43 L432.77 115.69 L432.99 113.94 L433.2 112.19 L433.42 110.43 L433.63 108.66 L433.85 106.89 L434.06 105.11 L434.27 103.32 L434.49 101.53 L434.7 99.73 L434.92 97.93 L435.13 96.13 L435.35 94.31 L435.56 92.5 L435.78 90.68 L435.99 88.85 L436.21 87.02 L436.42 85.19 L436.64 83.35 L436.85 81.5 L437.07 79.66 L437.28 77.81 L437.5 75.95 L437.71 74.09 L437.93 72.23 L438.14 70.37 L438.36 68.5 L438.57 66.63 L438.79 64.75 L439 62.87 L439 61.64 L439.22 71.32 L439.43 80.09 L439.65 88.04 L439.87 95.27 L440.08 101.85 L440.3 107.85 L440.52 113.32 L440.74 118.33 L440.95 122.92 L441.17 127.13 L441.39 131.01 L441.6 134.58 L441.82 137.87 L442.04 140.92 L442.25 143.75 L442.47 146.37 L442.69 148.82 L442.91 151.09 L443.12 153.22 L443.34 155.21 L443.56 157.07 L443.77 158.82 L443.99 160.46 L444.21 162.01 L444.42 163.47 L444.64 164.84 L444.86 166.14 L445.08 167.37 L445.29 168.53 L445.51 169.63 L445.73 170.67 L445.94 171.65 L446.16 172.58 L446.38 173.47 L446.59 174.3 L446.81 175.09 L447.03 175.84 L447.25 176.54 L447.46 177.21 L447.68 177.84 L447.9 178.42 L448.11 178.98 L448.33 179.49 L448.55 179.97 L448.76 180.42 L448.98 180.83 L449.2 181.22 L449.42 181.56 L449.63 181.88 L449.85 182.17 L450.07 182.42 L450.28 182.64 L450.5 182.84 L450.72 183 L450.93 183.13 L451.15 183.23 L451.37 183.31 L451.58 183.35 L451.8 183.36 L452.02 183.35 L452.24 183.31 L452.45 183.23 L452.67 183.13 L452.89 183 L453.1 182.84 L453.32 182.65 L453.54 182.43 L453.75 182.18 L453.97 181.9 L454.19 181.6 L454.41 181.26 L454.62 180.9 L454.84 180.52 L455.06 180.1 L455.27 179.66 L455.49 179.19 L455.71 178.69 L455.92 178.16 L456.14 177.61 L456.36 177.04 L456.58 176.44 L456.79 175.81 L457.01 175.16 L457.23 174.49 L457.44 173.79 L457.66 173.06 L457.88 172.32 L458.09 171.55 L458.31 170.76 L458.53 169.94 L458.75 169.11 L458.96 168.25 L459.18 167.37 L459.4 166.47 L459.61 165.55 L459.83 164.61 L460.05 163.65 L460.26 162.67 L460.48 161.68 L460.7 160.66 L460.92 159.63 L461.13 158.57 L461.35 157.51 L461.57 156.42 L461.78 155.32 L462 154.2 L462.22 153.06 L462.43 151.91 L462.65 150.75 L462.87 149.56 L463.08 148.37 L463.3 147.16 L463.52 145.93 L463.74 144.7 L463.95 143.45 L464.17 142.18 L464.39 140.9 L464.6 139.61 L464.82 138.31 L465.04 137 L465.25 135.67 L465.47 134.33 L465.69 132.99 L465.91 131.63 L466.12 130.25 L466.34 128.87 L466.56 127.48 L466.77 126.08 L466.99 124.67 L467.21 123.25 L467.42 121.82 L467.64 120.38 L467.86 118.93 L468.08 117.48 L468.29 116.01 L468.51 114.54 L468.73 113.05 L468.94 111.56 L469.16 110.07 L469.38 108.56 L469.59 107.05 L469.81 105.53 L470.03 104 L470.25 102.46 L470.46 100.92 L470.68 99.37 L470.9 97.82 L471.11 96.26 L471.33 94.69 L471.55 93.12 L471.76 91.54 L471.98 89.95 L472.2 88.36 L472.42 86.76 L472.63 85.16 L472.85 83.55 L473.07 81.94 L473.28 80.32 L473.5 78.69 L473.5 78.89 L473.72 87.19 L473.94 94.56 L474.15 101.14 L474.37 107.02 L474.59 112.3 L474.81 117.06 L475.02 121.35 L475.24 125.24 L475.46 128.78 L475.68 132.01 L475.89 134.97 L476.11 137.7 L476.33 140.21 L476.55 142.54 L476.76 144.7 L476.98 146.71 L477.2 148.6 L477.42 150.36 L477.63 152.02 L477.85 153.59 L478.07 155.06 L478.29 156.46 L478.51 157.79 L478.72 159.05 L478.94 160.24 L479.16 161.38 L479.38 162.47 L479.59 163.5 L479.81 164.48 L480.03 165.42 L480.25 166.32 L480.46 167.17 L480.68 167.98 L480.9 168.76 L481.12 169.49 L481.33 170.19 L481.55 170.85 L481.77 171.48 L481.99 172.07 L482.2 172.63 L482.42 173.15 L482.64 173.64 L482.86 174.1 L483.07 174.52 L483.29 174.91 L483.51 175.27 L483.73 175.6 L483.95 175.9 L484.16 176.16 L484.38 176.39 L484.6 176.6 L484.82 176.77 L485.03 176.9 L485.25 177.01 L485.47 177.09 L485.69 177.13 L485.9 177.15 L486.12 177.13 L486.34 177.09 L486.56 177.02 L486.77 176.92 L486.99 176.79 L487.21 176.64 L487.43 176.46 L487.64 176.25 L487.86 176.01 L488.08 175.74 L488.3 175.45 L488.52 175.14 L488.73 174.8 L488.95 174.43 L489.17 174.04 L489.39 173.62 L489.6 173.18 L489.82 172.71 L490.04 172.23 L490.26 171.71 L490.47 171.18 L490.69 170.63 L490.91 170.05 L491.13 169.46 L491.34 168.84 L491.56 168.21 L491.78 167.55 L492 166.88 L492.21 166.19 L492.43 165.48 L492.65 164.75 L492.87 164.01 L493.08 163.25 L493.3 162.47 L493.52 161.68 L493.74 160.88 L493.96 160.06 L494.17 159.23 L494.39 158.38 L494.61 157.52 L494.83 156.65 L495.04 155.76 L495.26 154.87 L495.48 153.96 L495.7 153.04 L495.91 152.11 L496.13 151.17 L496.35 150.22 L496.57 149.26 L496.78 148.29 L497 147.31 L497.22 146.32 L497.44 145.32 L497.65 144.32 L497.87 143.3 L498.09 142.28 L498.31 141.25 L498.53 140.21 L498.74 139.17 L498.96 138.12 L499.18 137.06 L499.4 136 L499.61 134.92 L499.83 133.85 L500.05 132.76 L500.27 131.67 L500.48 130.58 L500.7 129.48 L500.92 128.37 L501.14 127.26 L501.35 126.15 L501.57 125.03 L501.79 123.9 L502.01 122.77 L502.22 121.64 L502.44 120.5 L502.66 119.35 L502.88 118.21 L503.09 117.05 L503.31 115.9 L503.53 114.74 L503.75 113.58 L503.97 112.41 L504.18 111.24 L504.4 110.07 L504.62 108.89 L504.84 107.71 L505.05 106.53 L505.27 105.34 L505.49 104.15 L505.71 102.96 L505.92 101.77 L506.14 100.57 L506.36 99.37 L506.58 98.17 L506.79 96.96 L507.01 95.75 L507.23 94.54 L507.45 93.33 L507.66 92.12 L507.88 90.9 L508.1 89.68 L508.1 90.26 L508.32 95.79 L508.53 100.95 L508.75 105.75 L508.97 110.24 L509.18 114.42 L509.4 118.33 L509.62 121.98 L509.84 125.39 L510.05 128.59 L510.27 131.58 L510.49 134.37 L510.7 137 L510.92 139.46 L511.14 141.76 L511.35 143.92 L511.57 145.96 L511.79 147.86 L512.01 149.66 L512.22 151.34 L512.44 152.92 L512.66 154.41 L512.87 155.81 L513.09 157.13 L513.31 158.37 L513.52 159.54 L513.74 160.63 L513.96 161.66 L514.18 162.63 L514.39 163.54 L514.61 164.4 L514.83 165.2 L515.04 165.95 L515.26 166.65 L515.48 167.31 L515.69 167.92 L515.91 168.49 L516.13 169.02 L516.35 169.52 L516.56 169.97 L516.78 170.39 L517 170.77 L517.21 171.13 L517.43 171.44 L517.65 171.73 L517.86 171.98 L518.08 172.21 L518.3 172.41 L518.52 172.57 L518.73 172.71 L518.95 172.82 L519.17 172.91 L519.38 172.97 L519.6 173 L519.82 173.01 L520.03 172.99 L520.25 172.95 L520.47 172.89 L520.68 172.8 L520.9 172.69 L521.12 172.56 L521.34 172.41 L521.55 172.24 L521.77 172.04 L521.99 171.82 L522.2 171.58 L522.42 171.32 L522.64 171.03 L522.85 170.73 L523.07 170.4 L523.29 170.06 L523.51 169.69 L523.72 169.31 L523.94 168.91 L524.16 168.49 L524.37 168.05 L524.59 167.59 L524.81 167.11 L525.02 166.62 L525.24 166.11 L525.46 165.59 L525.68 165.04 L525.89 164.49 L526.11 163.92 L526.33 163.33 L526.54 162.73 L526.76 162.11 L526.98 161.48 L527.19 160.84 L527.41 160.19 L527.63 159.52 L527.85 158.84 L528.06 158.15 L528.28 157.45 L528.5 156.73 L528.71 156.01 L528.93 155.27 L529.15 154.53 L529.36 153.77 L529.58 153 L529.8 152.23 L530.02 151.45 L530.23 150.65 L530.45 149.85 L530.67 149.04 L530.88 148.23 L531.1 147.4 L531.32 146.57 L531.53 145.73 L531.75 144.88 L531.97 144.03 L532.18 143.17 L532.4 142.3 L532.62 141.43 L532.84 140.55 L533.05 139.66 L533.27 138.77 L533.49 137.87 L533.7 136.97 L533.92 136.06 L534.14 135.15 L534.35 134.23 L534.57 133.31 L534.79 132.38 L535.01 131.45 L535.22 130.51 L535.44 129.57 L535.66 128.63 L535.87 127.68 L536.09 126.72 L536.31 125.77 L536.52 124.8 L536.74 123.84 L536.96 122.87 L537.18 121.9 L537.39 120.93 L537.61 119.95 L537.83 118.97 L538.04 117.98 L538.26 116.99 L538.48 116 L538.69 115.01 L538.91 114.01 L539.13 113.01 L539.35 112.01 L539.56 111.01 L539.78 110 L540 108.99 L540.21 107.98 L540.43 106.97 L540.65 105.95 L540.86 104.93 L541.08 103.91 L541.3 102.89 L541.52 101.86 L541.73 100.83 L541.95 99.81 L542.17 98.77 L542.38 97.74 L542.6 96.71 L542.6 97.25 L542.82 102.5 L543.04 107.36 L543.25 111.85 L543.47 116.02 L543.69 119.88 L543.91 123.46 L544.13 126.78 L544.35 129.87 L544.56 132.75 L544.78 135.42 L545 137.91 L545.22 140.23 L545.44 142.39 L545.66 144.42 L545.87 146.3 L546.09 148.07 L546.31 149.72 L546.53 151.26 L546.75 152.7 L546.96 154.06 L547.18 155.33 L547.4 156.51 L547.62 157.63 L547.84 158.67 L548.06 159.65 L548.27 160.57 L548.49 161.43 L548.71 162.24 L548.93 162.99 L549.15 163.7 L549.37 164.36 L549.58 164.98 L549.8 165.55 L550.02 166.09 L550.24 166.59 L550.46 167.05 L550.67 167.47 L550.89 167.87 L551.11 168.23 L551.33 168.55 L551.55 168.85 L551.77 169.12 L551.98 169.36 L552.2 169.57 L552.42 169.76 L552.64 169.92 L552.86 170.05 L553.08 170.16 L553.29 170.24 L553.51 170.3 L553.73 170.33 L553.95 170.34 L554.17 170.33 L554.38 170.3 L554.6 170.24 L554.82 170.16 L555.04 170.06 L555.26 169.94 L555.48 169.8 L555.69 169.64 L555.91 169.45 L556.13 169.25 L556.35 169.02 L556.57 168.78 L556.79 168.51 L557 168.23 L557.22 167.93 L557.44 167.61 L557.66 167.27 L557.88 166.91 L558.09 166.53 L558.31 166.14 L558.53 165.73 L558.75 165.31 L558.97 164.87 L559.19 164.41 L559.4 163.94 L559.62 163.46 L559.84 162.96 L560.06 162.45 L560.28 161.92 L560.5 161.38 L560.71 160.83 L560.93 160.27 L561.15 159.7 L561.37 159.11 L561.59 158.51 L561.81 157.91 L562.02 157.29 L562.24 156.66 L562.46 156.02 L562.68 155.38 L562.9 154.72 L563.11 154.06 L563.33 153.39 L563.55 152.71 L563.77 152.02 L563.99 151.32 L564.21 150.62 L564.42 149.91 L564.64 149.2 L564.86 148.47 L565.08 147.74 L565.3 147.01 L565.52 146.27 L565.73 145.52 L565.95 144.77 L566.17 144.01 L566.39 143.24 L566.61 142.48 L566.82 141.7 L567.04 140.92 L567.26 140.14 L567.48 139.35 L567.7 138.56 L567.92 137.77 L568.13 136.97 L568.35 136.16 L568.57 135.36 L568.79 134.55 L569.01 133.73 L569.23 132.91 L569.44 132.09 L569.66 131.27 L569.88 130.44 L570.1 129.61 L570.32 128.78 L570.53 127.94 L570.75 127.1 L570.97 126.26 L571.19 125.41 L571.41 124.57 L571.63 123.72 L571.84 122.86 L572.06 122.01 L572.28 121.15 L572.5 120.29 L572.72 119.43 L572.94 118.57 L573.15 117.7 L573.37 116.84 L573.59 115.97 L573.81 115.1 L574.03 114.22 L574.24 113.35 L574.46 112.47 L574.68 111.59 L574.9 110.71 L575.12 109.83 L575.34 108.95 L575.55 108.07 L575.77 107.18 L575.99 106.29 L576.21 105.4 L576.43 104.51 L576.65 103.62 L576.86 102.73 L577.08 101.83 L577.3 100.94 L577.3 101.33 L577.52 108.39 L577.73 114.43 L577.95 119.62 L578.16 124.1 L578.38 127.99 L578.59 131.39 L578.81 134.36 L579.02 136.99 L579.24 139.33 L579.45 141.41 L579.67 143.29 L579.88 144.99 L580.1 146.54 L580.31 147.96 L580.53 149.27 L580.74 150.48 L580.96 151.61 L581.17 152.66 L581.39 153.65 L581.6 154.59 L581.82 155.47 L582.03 156.3 L582.25 157.1 L582.46 157.85 L582.68 158.57 L582.89 159.26 L583.11 159.91 L583.32 160.54 L583.54 161.14 L583.75 161.7 L583.97 162.25 L584.18 162.76 L584.4 163.26 L584.61 163.72 L584.83 164.17 L585.04 164.59 L585.26 164.98 L585.47 165.36 L585.69 165.71 L585.9 166.04 L586.12 166.34 L586.33 166.63 L586.55 166.89 L586.76 167.13 L586.98 167.34 L587.19 167.54 L587.41 167.71 L587.62 167.86 L587.84 167.99 L588.05 168.1 L588.27 168.18 L588.48 168.25 L588.7 168.29 L588.92 168.31 L589.13 168.31 L589.35 168.29 L589.56 168.26 L589.78 168.22 L589.99 168.17 L590.21 168.1 L590.42 168.02 L590.64 167.92 L590.85 167.82 L591.07 167.69 L591.28 167.56 L591.5 167.41 L591.71 167.25 L591.93 167.08 L592.14 166.89 L592.36 166.69 L592.57 166.48 L592.79 166.25 L593 166.01 L593.22 165.76 L593.43 165.49 L593.65 165.21 L593.86 164.92 L594.08 164.62 L594.29 164.3 L594.51 163.97 L594.72 163.63 L594.94 163.28 L595.15 162.91 L595.37 162.53 L595.58 162.14 L595.8 161.74 L596.01 161.32 L596.23 160.89 L596.44 160.45 L596.66 160 L596.87 159.54 L597.09 159.06 L597.3 158.57 L597.52 158.07 L597.73 157.56 L597.95 157.04 L598.16 156.5 L598.38 155.96 L598.59 155.4 L598.81 154.83 L599.02 154.25 L599.24 153.66 L599.45 153.06 L599.67 152.45 L599.88 151.82 L600.1 151.19 L600.32 150.54 L600.53 149.89 L600.75 149.22 L600.96 148.55 L601.18 147.86 L601.39 147.16 L601.61 146.45 L601.82 145.74 L602.04 145.01 L602.25 144.27 L602.47 143.53 L602.68 142.77 L602.9 142 L603.11 141.23 L603.33 140.44 L603.54 139.65 L603.76 138.84 L603.97 138.03 L604.19 137.21 L604.4 136.38 L604.62 135.54 L604.83 134.69 L605.05 133.83 L605.26 132.97 L605.48 132.09 L605.69 131.21 L605.91 130.32 L606.12 129.42 L606.34 128.51 L606.55 127.59 L606.77 126.67 L606.98 125.74 L607.2 124.8 L607.41 123.85 L607.63 122.89 L607.84 121.93 L608.06 120.96 L608.27 119.98 L608.49 119 L608.7 118.01 L608.92 117.01 L609.13 116 L609.35 114.98 L609.56 113.96 L609.78 112.94 L609.99 111.9 L610.21 110.86 L610.42 109.81 L610.64 108.76 L610.85 107.7 L611.07 106.63 L611.28 105.55 L611.5 104.47 L611.5 104.34 L611.72 109.57 L611.93 114.22 L612.15 118.39 L612.37 122.11 L612.58 125.46 L612.8 128.49 L613.01 131.23 L613.23 133.72 L613.45 135.99 L613.66 138.07 L613.88 139.98 L614.1 141.74 L614.31 143.38 L614.53 144.89 L614.75 146.31 L614.96 147.63 L615.18 148.86 L615.39 150.03 L615.61 151.12 L615.83 152.15 L616.04 153.13 L616.26 154.06 L616.48 154.93 L616.69 155.77 L616.91 156.56 L617.13 157.31 L617.34 158.03 L617.56 158.71 L617.77 159.36 L617.99 159.97 L618.21 160.56 L618.42 161.11 L618.64 161.64 L618.86 162.14 L619.07 162.61 L619.29 163.05 L619.51 163.47 L619.72 163.86 L619.94 164.22 L620.15 164.56 L620.37 164.88 L620.59 165.17 L620.8 165.44 L621.02 165.68 L621.24 165.89 L621.45 166.09 L621.67 166.26 L621.88 166.4 L622.1 166.52 L622.32 166.62 L622.53 166.69 L622.75 166.74 L622.97 166.77 L623.18 166.77 L623.4 166.76 L623.62 166.74 L623.83 166.7 L624.05 166.65 L624.26 166.59 L624.48 166.51 L624.7 166.43 L624.91 166.32 L625.13 166.21 L625.35 166.09 L625.56 165.95 L625.78 165.8 L626 165.63 L626.21 165.46 L626.43 165.27 L626.64 165.07 L626.86 164.86 L627.08 164.63 L627.29 164.39 L627.51 164.14 L627.73 163.88 L627.94 163.61 L628.16 163.32 L628.38 163.03 L628.59 162.72 L628.81 162.4 L629.02 162.07 L629.24 161.72 L629.46 161.37 L629.67 161 L629.89 160.62 L630.11 160.23 L630.32 159.83 L630.54 159.42 L630.76 159 L630.97 158.57 L631.19 158.13 L631.4 157.67 L631.62 157.21 L631.84 156.73 L632.05 156.25 L632.27 155.75 L632.49 155.25 L632.7 154.73 L632.92 154.21 L633.14 153.67 L633.35 153.13 L633.57 152.57 L633.78 152.01 L634 151.43 L634.22 150.85 L634.43 150.26 L634.65 149.66 L634.87 149.05 L635.08 148.43 L635.3 147.81 L635.52 147.17 L635.73 146.53 L635.95 145.87 L636.16 145.21 L636.38 144.55 L636.6 143.87 L636.81 143.18 L637.03 142.49 L637.25 141.79 L637.46 141.08 L637.68 140.37 L637.89 139.64 L638.11 138.91 L638.33 138.18 L638.54 137.43 L638.76 136.68 L638.98 135.92 L639.19 135.15 L639.41 134.38 L639.63 133.6 L639.84 132.82 L640.06 132.02 L640.27 131.22 L640.49 130.42 L640.71 129.61 L640.92 128.79 L641.14 127.97 L641.36 127.14 L641.57 126.3 L641.79 125.46 L642.01 124.61 L642.22 123.76 L642.44 122.9 L642.65 122.04 L642.87 121.17 L643.09 120.3 L643.3 119.42 L643.52 118.53 L643.74 117.64 L643.95 116.75 L644.17 115.85 L644.39 114.94 L644.6 114.03 L644.82 113.12 L645.03 112.2 L645.25 111.28 L645.47 110.35 L645.68 109.42 L645.9 108.48 L645.9 108.23 L646.11 111.82 L646.32 115.19 L646.53 118.34 L646.74 121.3 L646.95 124.07 L647.16 126.67 L647.37 129.11 L647.59 131.4 L647.8 133.55 L648.01 135.57 L648.22 137.47 L648.43 139.26 L648.64 140.94 L648.85 142.52 L649.06 144.01 L649.27 145.42 L649.48 146.74 L649.69 147.99 L649.9 149.17 L650.11 150.28 L650.32 151.32 L650.54 152.31 L650.75 153.25 L650.96 154.13 L651.17 154.96 L651.38 155.74 L651.59 156.48 L651.8 157.18 L652.01 157.84 L652.22 158.47 L652.43 159.05 L652.64 159.61 L652.85 160.13 L653.06 160.62 L653.27 161.08 L653.48 161.51 L653.7 161.92 L653.91 162.3 L654.12 162.66 L654.33 162.99 L654.54 163.3 L654.75 163.59 L654.96 163.86 L655.17 164.1 L655.38 164.33 L655.59 164.54 L655.8 164.72 L656.01 164.9 L656.22 165.05 L656.43 165.18 L656.65 165.3 L656.86 165.4 L657.07 165.49 L657.28 165.56 L657.49 165.61 L657.7 165.65 L657.91 165.68 L658.12 165.69 L658.33 165.68 L658.54 165.67 L658.75 165.64 L658.96 165.6 L659.17 165.55 L659.38 165.49 L659.59 165.41 L659.81 165.33 L660.02 165.23 L660.23 165.12 L660.44 165.01 L660.65 164.87 L660.86 164.73 L661.07 164.58 L661.28 164.41 L661.49 164.24 L661.7 164.05 L661.91 163.85 L662.12 163.64 L662.33 163.42 L662.54 163.19 L662.76 162.95 L662.97 162.69 L663.18 162.43 L663.39 162.15 L663.6 161.86 L663.81 161.56 L664.02 161.26 L664.23 160.94 L664.44 160.61 L664.65 160.27 L664.86 159.92 L665.07 159.55 L665.28 159.18 L665.49 158.8 L665.71 158.41 L665.92 158 L666.13 157.59 L666.34 157.17 L666.55 156.74 L666.76 156.29 L666.97 155.84 L667.18 155.38 L667.39 154.91 L667.6 154.42 L667.81 153.93 L668.02 153.43 L668.23 152.92 L668.44 152.4 L668.65 151.87 L668.87 151.34 L669.08 150.79 L669.29 150.23 L669.5 149.67 L669.71 149.09 L669.92 148.51 L670.13 147.92 L670.34 147.32 L670.55 146.71 L670.76 146.1 L670.97 145.47 L671.18 144.84 L671.39 144.2 L671.6 143.55 L671.82 142.89 L672.03 142.23 L672.24 141.55 L672.45 140.87 L672.66 140.18 L672.87 139.49 L673.08 138.78 L673.29 138.07 L673.5 137.35 L673.71 136.63 L673.92 135.9 L674.13 135.16 L674.34 134.41 L674.55 133.65 L674.76 132.89 L674.98 132.13 L675.19 131.35 L675.4 130.57 L675.61 129.78 L675.82 128.99 L676.03 128.19 L676.24 127.38 L676.45 126.57 L676.66 125.75 L676.87 124.92 L677.08 124.09 L677.29 123.25 L677.5 122.41 L677.71 121.56 L677.93 120.7 L678.14 119.84 L678.35 118.98 L678.56 118.1 L678.77 117.23 L678.98 116.34 L679.19 115.46 L679.4 114.56" fill="none" stroke="#1482ff" stroke-width="1.55" stroke-linejoin="bevel"/>
<rect x="388.0" y="11.7" width="291.5" height="212.9" fill="none" stroke="#1c1c1c" stroke-width="1.25"/>
<line x1="388.0" x2="391.2" y1="203.01" y2="203.01" stroke="#8a8a8a" stroke-width="0.65"/>
<line x1="388.0" x2="393.2" y1="181.72" y2="181.72" stroke="#1c1c1c" stroke-width="1.2"/>
<line x1="388.0" x2="391.2" y1="160.43" y2="160.43" stroke="#8a8a8a" stroke-width="0.65"/>
<line x1="388.0" x2="393.2" y1="139.14" y2="139.14" stroke="#1c1c1c" stroke-width="1.2"/>
<line x1="388.0" x2="391.2" y1="117.85" y2="117.85" stroke="#8a8a8a" stroke-width="0.65"/>
<line x1="388.0" x2="393.2" y1="96.56" y2="96.56" stroke="#1c1c1c" stroke-width="1.2"/>
<line x1="388.0" x2="391.2" y1="75.27" y2="75.27" stroke="#8a8a8a" stroke-width="0.65"/>
<line x1="388.0" x2="393.2" y1="53.98" y2="53.98" stroke="#1c1c1c" stroke-width="1.2"/>
<line x1="388.0" x2="391.2" y1="32.69" y2="32.69" stroke="#8a8a8a" stroke-width="0.65"/>
<line x1="424.44" x2="424.44" y1="224.6" y2="221.4" stroke="#8a8a8a" stroke-width="0.65"/>
<line x1="460.88" x2="460.88" y1="224.6" y2="219.4" stroke="#1c1c1c" stroke-width="1.2"/>
<line x1="497.31" x2="497.31" y1="224.6" y2="221.4" stroke="#8a8a8a" stroke-width="0.65"/>
<line x1="533.75" x2="533.75" y1="224.6" y2="219.4" stroke="#1c1c1c" stroke-width="1.2"/>
<line x1="570.19" x2="570.19" y1="224.6" y2="221.4" stroke="#8a8a8a" stroke-width="0.65"/>
<line x1="606.62" x2="606.62" y1="224.6" y2="219.4" stroke="#1c1c1c" stroke-width="1.2"/>
<line x1="643.06" x2="643.06" y1="224.6" y2="221.4" stroke="#8a8a8a" stroke-width="0.65"/>
<g class="tk">
<text x="382.9" y="228.1" text-anchor="end">0</text>
<text x="382.9" y="185.52" text-anchor="end">0.2</text>
<text x="382.9" y="142.94" text-anchor="end">0.4</text>
<text x="382.9" y="100.36" text-anchor="end">0.6</text>
<text x="382.9" y="57.78" text-anchor="end">0.8</text>
<text x="382.9" y="15.2" text-anchor="end">1</text>
<text x="388" y="235.8" text-anchor="middle">0</text>
<text x="460.88" y="235.8" text-anchor="middle">5</text>
<text x="533.75" y="235.8" text-anchor="middle">10</text>
<text x="606.62" y="235.8" text-anchor="middle">15</text>
<text x="679.5" y="235.8" text-anchor="middle">20</text>
</g>
<text class="ttl it" transform="translate(346.3,14.5) scale(0.9,1)" style="font-size:20.3px">(b)</text>
<text class="ttl it" x="531.2" y="258" style="font-size:21px">t</text>
<text class="ttl it" transform="translate(360.6,129.0) rotate(-90) scale(0.95,1)" style="font-size:20.5px">l(t)</text>
</svg>
</body></html>
